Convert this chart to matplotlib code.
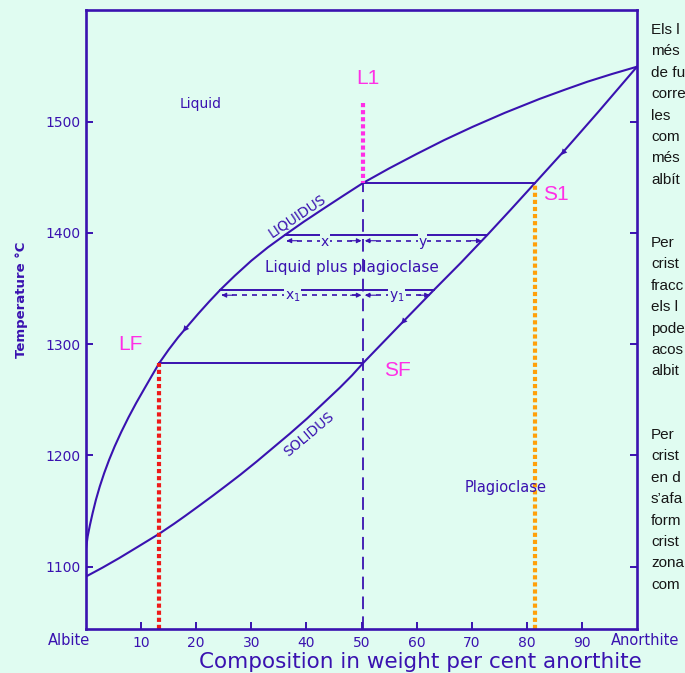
import matplotlib.pyplot as plt

# plagioclase phase diagram
liq_x = [0, 0.3, 0.7, 1.2, 1.8, 2.5, 3.3, 4.2, 5.2, 6.4, 7.7, 9.1, 10.6, 12.0, 13.3, 15, 16.7,
         18.4, 20.4, 22.4, 24.4, 27, 30, 33, 36.2, 39.5, 43, 46.7, 50.3, 55, 60, 65, 70.2,
         76, 82.3, 87, 91, 95.5, 100]
liq_t = [1116, 1127, 1137, 1148, 1160, 1172, 1184, 1196, 1208, 1221, 1234, 1247, 1260, 1272, 1283, 1295, 1306,
         1316, 1327.5, 1338.5, 1349, 1361.5, 1375, 1387, 1398.5, 1410, 1421.5, 1433.5, 1445, 1458, 1471, 1483.5, 1495.5,
         1508, 1520.5, 1529, 1536, 1543, 1549.5]
sol_x = [0, 3, 6, 9.5, 13.3, 16, 18, 20.5, 23.1, 25.5, 28, 31, 34, 37, 40.1, 43, 46.1, 48.3, 50.3,
         54, 57.9, 63, 68, 72.8, 77, 81.5, 86.9, 93, 100]
sol_t = [1091, 1099, 1107.5, 1118, 1129.5, 1138.5, 1145.5, 1154.5, 1164, 1173, 1182.5, 1194.5, 1207, 1219.5, 1233,
         1246.5, 1261, 1272, 1283, 1302, 1322, 1348, 1373, 1398, 1420.5, 1445, 1474.5, 1509, 1549.5]

# tie lines: (x liquidus, x solidus, temperature)
ties = [(50.3, 81.5, 1445), (36.2, 72.8, 1398.5), (24.4, 63.2, 1349), (13.3, 50.3, 1283)]
# lever arrows: (left, centre, right, temperature, left label, right label)
levers = [(36.4, 50.3, 71.8, 1393, 'x', 'y'), (24.6, 50.3, 62.4, 1344, 'x$_1$', 'y$_1$')]

x_ticks = [10, 20, 30, 40, 50, 60, 70, 80, 90]
y_ticks = [1100, 1200, 1300, 1400, 1500]

comp_L1, t_L1 = 50.3, 1445
comp_LF, t_LF = 13.3, 1283
comp_S1, t_S1 = 81.5, 1445

para1 = ['Els l', 'més', 'de fu', 'corre', 'les', 'com', 'més', 'albít']
para2 = ['Per', 'crist', 'fracc', 'els l', 'pode', 'acos', 'albit']
para3 = ['Per', 'crist', 'en d', 's’afa', 'form', 'crist', 'zona', 'com']

bg = '#e0fcf1'
ink = '#3a12b0'
pink = '#ff2fe6'

fig = plt.figure(figsize=(6.85, 6.73), dpi=100, facecolor=bg)
ax = fig.add_axes([86 / 685, 44 / 673, 551 / 685, 619 / 673])
ax.set_facecolor(bg)
ax.set_xlim(0, 100)
ax.set_ylim(1043.8, 1600.5)

for s in ax.spines.values():
    s.set_color(ink)
    s.set_linewidth(1.9)

ax.plot(liq_x, liq_t, color=ink, lw=1.5)
ax.plot(sol_x, sol_t, color=ink, lw=1.5)

for xl, xs, t in ties:
    ax.plot([xl, xs], [t, t], color=ink, lw=1.4)

# vertical dashed isopleth at the bulk composition
ax.plot([comp_L1, comp_L1], [1043.8, t_L1], color=ink, lw=1.3, dashes=(7, 4))

arrow_kw = dict(arrowstyle='-|>', color=ink, lw=0.8, mutation_scale=7, shrinkA=0, shrinkB=0)
for a, c, b, t, lab_a, lab_b in levers:
    ax.plot([a, c - 0.6], [t, t], color=ink, lw=1.2, dashes=(3, 3))
    ax.plot([c + 0.6, b], [t, t], color=ink, lw=1.2, dashes=(3, 3))
    for tip, tail in ((a, a + 2), (c - 0.3, c - 2.3), (c + 0.3, c + 2.3), (b, b - 2)):
        ax.annotate('', xy=(tip, t), xytext=(tail, t), arrowprops=arrow_kw)
    ax.text((a + c) / 2, t - 1, lab_a, color=ink, fontsize=10, ha='center', va='center',
            bbox=dict(fc=bg, ec='none', pad=0.5))
    ax.text((c + b) / 2, t - 1, lab_b, color=ink, fontsize=10, ha='center', va='center',
            bbox=dict(fc=bg, ec='none', pad=0.5))

# small arrowheads along the curves (cooling direction)
head_kw = dict(arrowstyle='-|>', color=ink, lw=0, mutation_scale=11, shrinkA=0, shrinkB=0)
ax.annotate('', xy=(17.6, 1311), xytext=(19.0, 1320), arrowprops=head_kw)
ax.annotate('', xy=(57.2, 1318), xytext=(58.6, 1326), arrowprops=head_kw)
ax.annotate('', xy=(86.2, 1470), xytext=(87.6, 1478), arrowprops=head_kw)

# coloured dotted guide lines
ax.plot([comp_L1, comp_L1], [1517, t_L1], color=pink, lw=3, ls=(0, (1, 0.7)))
ax.plot([comp_LF, comp_LF], [1043.8, t_LF], color='#ee1a1a', lw=3, ls=(0, (1, 0.7)))
ax.plot([comp_S1, comp_S1], [1043.8, t_S1], color='#ffa00a', lw=3, ls=(0, (1, 0.7)))

ax.text(51.2, 1539, 'L1', color=pink, fontsize=15, ha='center', va='center', family='Liberation Sans')
ax.text(85.3, 1435, 'S1', color=pink, fontsize=15, ha='center', va='center', family='Liberation Sans')
ax.text(8.1, 1300, 'LF', color=pink, fontsize=15, ha='center', va='center', family='Liberation Sans')
ax.text(56.6, 1276, 'SF', color=pink, fontsize=15, ha='center', va='center', family='Liberation Sans')

ax.text(20.8, 1516, 'Liquid', color=ink, fontsize=10, ha='center', va='center')
ax.text(48.3, 1369, 'Liquid plus plagioclase', color=ink, fontsize=11, ha='center', va='center')
ax.text(76.1, 1171, 'Plagioclase', color=ink, fontsize=10.5, ha='center', va='center')
ax.text(38.3, 1415, 'LIQUIDUS', color=ink, fontsize=10, ha='center', va='center', rotation=34)
ax.text(40.5, 1219, 'SOLIDUS', color=ink, fontsize=10, ha='center', va='center', rotation=40)

ax.set_xticks(x_ticks)
ax.set_xticklabels([str(v) for v in x_ticks])
ax.set_yticks(y_ticks)
ax.set_yticklabels([str(v) for v in y_ticks])
ax.tick_params(axis='both', direction='in', length=5, width=1.4, color=ink,
               labelcolor=ink, labelsize=10)
ax.tick_params(axis='x', pad=5)
ax.tick_params(axis='y', pad=4, right=True)

tr = ax.get_xaxis_transform()
ax.text(-3, -0.019, 'Albite', transform=tr, color=ink, fontsize=10.5, ha='center', va='center')
ax.text(101.5, -0.019, 'Anorthite', transform=tr, color=ink, fontsize=10.5, ha='center', va='center')

fig.text(420 / 685, 1 - 662 / 673, 'Composition in weight per cent anorthite', color=ink,
         fontsize=15.5, ha='center', va='center')
fig.text(22 / 685, 1 - 300 / 673, 'Temperature °C', color=ink, fontsize=9.5, weight='bold',
         rotation=90, ha='center', va='center')

# side text, cut off at the right edge as in the source
for start, lines in ((30, para1), (243, para2), (435, para3)):
    for i, s in enumerate(lines):
        fig.text(651 / 685, 1 - (start + i * 21.4) / 673, s, fontsize=11, color='#161616',
                 family='Liberation Sans', ha='left', va='center')

fig.savefig('out.png', dpi=100, facecolor=bg)
